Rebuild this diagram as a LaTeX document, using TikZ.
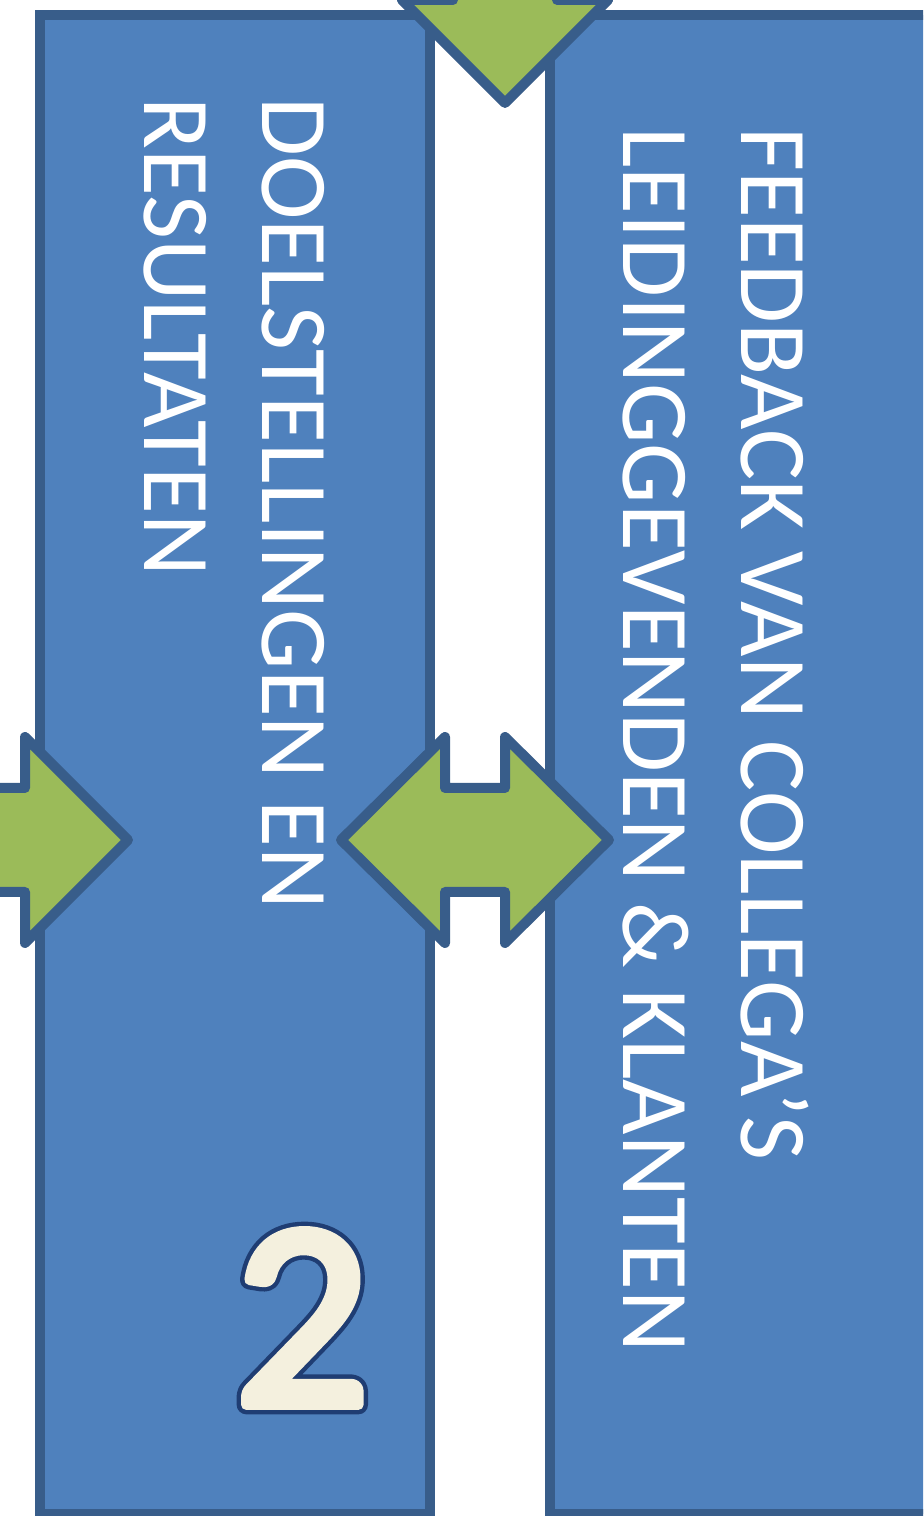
\documentclass[tikz,border=0pt]{standalone}
\usepackage{fontspec}
\setmainfont{Carlito}
\definecolor{vakblauw}{HTML}{4F81BD}
\definecolor{randblauw}{HTML}{385D8A}
\definecolor{pijlgroen}{HTML}{9BBB59}
\definecolor{cijferroom}{HTML}{F4F0DE}
\definecolor{cijferrand}{HTML}{1F3D73}
% glyph filled and stroked in one colour (render mode 2): #1 colour, #2 stroke width
\newcommand{\cijferlaag}[3]{{\color{#1}\special{pdf:code q #2 w 1 j 2 Tr}#3\special{pdf:code 0 Tr Q}}}
\tikzset{
  blokje/.style={rectangle, draw=randblauw, fill=vakblauw, line width=0.2cm, inner sep=0},
  pijl/.style={draw=randblauw, fill=pijlgroen, line width=0.2cm, line join=round},
  regel/.style={rotate=-90, anchor=base west, inner sep=0, text=white,
    font=\fontsize{54.5}{65}\selectfont},
  cijfer/.style={inner sep=0, font=\fontsize{152}{152}\selectfont},
}
\begin{document}
\begin{tikzpicture}
            \useasboundingbox (0,0) rectangle (18.460000,30.320000);
            \clip (0,0) rectangle (18.460000,30.320000);
            {\footnotesize

            % Drawing box doelstellingen
            \node [blokje, minimum width=7.800000cm, minimum height=29.980000cm] (doel) at (4.700000,15.030000) {};%

            % Drawing box feedback
            \node [blokje, minimum width=8.020000cm, minimum height=29.980000cm] (feedback) at (15.000000,15.030000) {};%

            % Drawing arrow from the top
            \draw [pijl] (9.060000,31.600000) -- (9.060000,30.320000) -- (8.040000,30.320000) -- (10.100000,28.260000) -- (12.160000,30.320000) -- (11.140000,30.320000) -- (11.140000,31.600000) -- cycle;%

            % Drawing arrow from the left
            \draw [pijl] (-1.200000,14.560000) -- (0.500000,14.560000) -- (0.500000,15.580000) -- (2.560000,13.520000) -- (0.500000,11.460000) -- (0.500000,12.480000) -- (-1.200000,12.480000) -- cycle;%

            % Drawing double arrow between the boxes
            \draw [pijl] (6.820000,13.520000) -- (8.900000,15.580000) -- (8.900000,14.560000) -- (10.100000,14.560000) -- (10.100000,15.580000) -- (12.180000,13.520000) -- (10.100000,11.460000) -- (10.100000,12.480000) -- (8.900000,12.480000) -- (8.900000,11.460000) -- cycle;%

            % Text of box doelstellingen
            \node [regel] (doel1) at (5.240000,28.380000) {DOELSTELLINGEN EN};%
            \node [regel] (doel2) at (2.880000,28.380000) {RESULTATEN};%

            % Text of box feedback
            \node [regel] (feed1) at (14.820000,27.780000) {FEEDBACK VAN COLLEGA’S};%
            \node [regel] (feed2) at (12.460000,27.780000) {LEIDINGGEVENDEN \& KLANTEN};%

            % Marking the number 2 (dark rim under a bold cream face)
            \node [cijfer] (nummerrand) at (6.040000,3.960000) {\cijferlaag{cijferrand}{11}{2}};%
            \node [cijfer] (nummer) at (6.040000,3.960000) {\cijferlaag{cijferroom}{6}{2}};%

            }
        \end{tikzpicture}
\end{document}
